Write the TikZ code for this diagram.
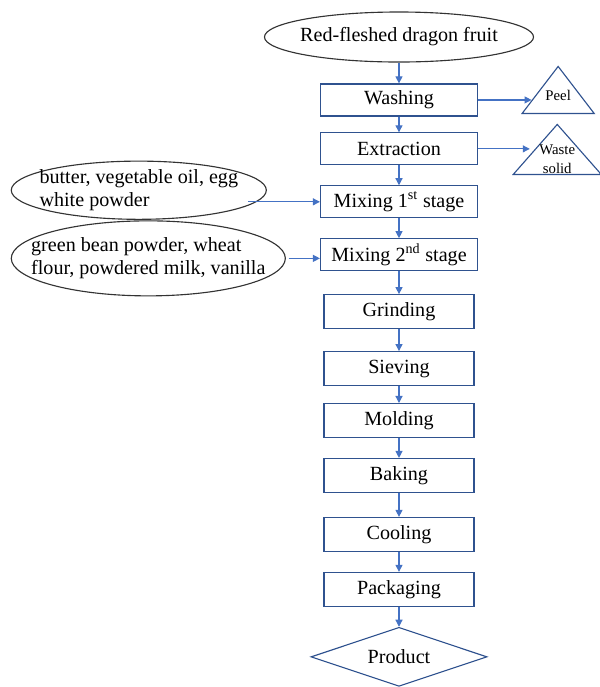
\documentclass[tikz,border=0pt]{standalone}
\usepackage{fontspec}
\setmainfont{Liberation Serif}
\usetikzlibrary{shapes.geometric, arrows.meta, positioning}
\definecolor{linkblue}{RGB}{68,114,196}
\definecolor{edgeblue}{RGB}{47,82,143}

\begin{document}
\begin{tikzpicture}[
    x=0.025cm, y=-0.025cm, % one unit is one pixel of the sketch
    stepbox/.style={rectangle, draw=edgeblue, line width=0.8pt, minimum width=3.925cm, minimum height=0.8cm, inner sep=2pt, font=\fontsize{14.3}{17}\selectfont},
    lowbox/.style={stepbox, minimum width=3.75cm, minimum height=0.85cm},
    inputbox/.style={ellipse, draw=black!80, line width=0.8pt, align=left, inner xsep=-0.6cm, inner ysep=0pt, font=\fontsize{14.3}{16.3}\selectfont},
    wastebox/.style={isosceles triangle, isosceles triangle stretches, shape border rotate=90, draw=edgeblue, line width=0.8pt, inner sep=0pt},
    wastetext/.style={align=center, font=\fontsize{10.5}{13.5}\selectfont},
    endbox/.style={diamond, aspect=3, draw=edgeblue, line width=0.8pt, minimum width=4.4cm, minimum height=1.475cm, inner sep=0pt, font=\fontsize{14.3}{17}\selectfont},
    arrow/.style={-{Triangle[length=5pt, width=5pt]}, draw=linkblue, line width=0.8pt}
]
\useasboundingbox (0,0) rectangle (600,687);

% Raw fruit
\node[inputbox, minimum width=6.725cm, minimum height=1.25cm] (fruit) at (399,37) {Red-fleshed dragon fruit};

% Main process column
\node[stepbox, below=0.52cm of fruit] (washing) {Washing};
\node[stepbox, below=0.395cm of washing] (extraction) {Extraction};
\node[stepbox, below=0.495cm of extraction] (mix1) {Mixing 1\textsuperscript{st} stage};
\node[stepbox, below=0.495cm of mix1] (mix2) {Mixing 2\textsuperscript{nd} stage};
\node[lowbox, below=0.57cm of mix2] (grinding) {Grinding};
\node[lowbox, below=0.545cm of grinding] (sieving) {Sieving};
\node[lowbox, below=0.42cm of sieving] (molding) {Molding};
\node[lowbox, below=0.495cm of molding] (baking) {Baking};
\node[lowbox, below=0.595cm of baking] (cooling) {Cooling};
\node[lowbox, below=0.495cm of cooling] (packaging) {Packaging};
\node[endbox, below=0.495cm of packaging] (product) {Product};

% Side inputs
\node[inputbox, minimum width=6.375cm, minimum height=1.375cm, left=1.325cm of mix1, yshift=0.29cm] (in1) {butter, vegetable oil, egg\\white powder};
\node[inputbox, minimum width=6.85cm, minimum height=1.875cm, left=0.85cm of mix2, yshift=-0.09cm] (in2) {green bean powder, wheat\\flour, powdered milk, vanilla};

% Side outputs
\node[wastebox, minimum width=1.8cm, minimum height=1.175cm, anchor=left corner, label={[wastetext]center:Peel}] (peel) at (521,114) {};
\node[wastebox, minimum width=2.2cm, minimum height=1.25cm, anchor=left corner, label={[wastetext, yshift=-0.125cm]center:Waste\\solid}] (waste) at (512,175) {};

% Arrows
\draw[arrow] (fruit) -- (washing);
\draw[arrow] (washing) -- (extraction);
\draw[arrow] (extraction) -- (mix1);
\draw[arrow] (mix1) -- (mix2);
\draw[arrow] (mix2) -- (grinding);
\draw[arrow] (grinding) -- (sieving);
\draw[arrow] (sieving) -- (molding);
\draw[arrow] (molding) -- (baking);
\draw[arrow] (baking) -- (cooling);
\draw[arrow] (cooling) -- (packaging);
\draw[arrow] (packaging) -- (product);

\draw[arrow] (washing.east) -- ([xshift=-0.2cm]peel.left side |- washing.east);
\draw[arrow] (extraction.east) -- (waste.west |- extraction.east);
\draw[arrow] (in1.-8 |- mix1.west) -- (mix1.west);
\draw[arrow] ([xshift=2pt]in2.east) -- (in2.east -| mix2.west);

\end{tikzpicture}
\end{document}
